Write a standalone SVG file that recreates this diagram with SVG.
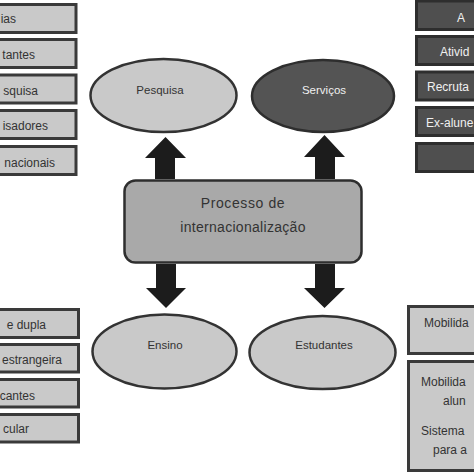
<svg xmlns="http://www.w3.org/2000/svg" width="474" height="474" viewBox="0 0 474 474">
<style>
.lb{fill:#c9c9c9;stroke:#3a3a3a;stroke-width:3}
.db{fill:#4f4f4f;stroke:#2e2e2e;stroke-width:3}
.el{fill:#c9c9c9;stroke:#333;stroke-width:2.5}
.eld{fill:#545454;stroke:#2e2e2e;stroke-width:2.5}
.t{font-family:"Liberation Sans",Arial,sans-serif;font-size:11.5px;fill:#333}
.tw{font-family:"Liberation Sans",Arial,sans-serif;font-size:11.5px;fill:#f0f0f0}
.b{font-size:12px}
.c{text-anchor:middle}
.e{text-anchor:end}
.arr{fill:#1c1c1c}
</style>
<rect width="474" height="474" fill="#fff"/>
<g id="left-top">
<g id="lt1"><rect class="lb" x="-5" y="4.5" width="81" height="28"/><text class="t b e" x="16" y="23">ias</text></g>
<g id="lt2"><rect class="lb" x="-5" y="39.5" width="81" height="28"/><text class="t b e" x="35" y="59">tantes</text></g>
<g id="lt3"><rect class="lb" x="-5" y="75" width="81" height="28"/><text class="t b e" x="38" y="95">squisa</text></g>
<g id="lt4"><rect class="lb" x="-5" y="110.5" width="81" height="28"/><text class="t b e" x="48" y="130">isadores</text></g>
<g id="lt5"><rect class="lb" x="-5" y="146.5" width="81" height="28"/><text class="t b e" x="55" y="167">nacionais</text></g>
</g>
<g id="right-top">
<g id="rt1"><rect class="db" x="416.5" y="1" width="70" height="28.5"/><text class="tw b" x="457" y="22">A</text></g>
<g id="rt2"><rect class="db" x="416.5" y="36.5" width="70" height="28"/><text class="tw b" x="440" y="56">Ativid</text></g>
<g id="rt3"><rect class="db" x="416.5" y="72" width="70" height="28"/><text class="tw b" x="427" y="91">Recruta</text></g>
<g id="rt4"><rect class="db" x="416.5" y="107.5" width="70" height="28"/><text class="tw b" x="426" y="127">Ex-alune</text></g>
<g id="rt5"><rect class="db" x="416.5" y="143.5" width="70" height="28"/></g>
</g>
<g id="left-bottom">
<g id="lb1"><rect class="lb" x="-5" y="309.5" width="83.5" height="28"/><text class="t b e" x="46" y="329">e dupla</text></g>
<g id="lb2"><rect class="lb" x="-5" y="344.5" width="83.5" height="27.5"/><text class="t b e" x="62" y="364">estrangeira</text></g>
<g id="lb3"><rect class="lb" x="-5" y="379.5" width="83.5" height="27.5"/><text class="t b e" x="35" y="400">cantes</text></g>
<g id="lb4"><rect class="lb" x="-5" y="414.5" width="83.5" height="27.5"/><text class="t b e" x="29" y="433">cular</text></g>
</g>
<g id="right-bottom">
<g id="rb1"><rect class="lb" x="408.5" y="306.5" width="75" height="47"/><text class="t b" x="424" y="327">Mobilida</text></g>
<g id="rb2"><rect class="lb" x="408.5" y="361.5" width="75" height="109"/>
<text class="t b" x="421" y="386">Mobilida</text>
<text class="t b" x="443" y="405">alun</text>
<text class="t b" x="421" y="435">Sistema</text>
<text class="t b" x="433" y="454">para a</text></g>
</g>
<g id="pesquisa"><ellipse class="el" cx="163.5" cy="95.5" rx="73" ry="36.5"/><text class="t c" x="160" y="94">Pesquisa</text></g>
<g id="servicos"><ellipse class="eld" cx="323" cy="96" rx="71" ry="36"/><text class="tw c" x="324" y="94">Serviços</text></g>
<g id="ensino"><ellipse class="el" cx="164.5" cy="351.5" rx="72" ry="37"/><text class="t c" x="165" y="349">Ensino</text></g>
<g id="estudantes"><ellipse class="el" cx="322.5" cy="352.5" rx="73" ry="36.5"/><text class="t c" x="324" y="349">Estudantes</text></g>
<g id="processo"><rect x="124.5" y="180.5" width="237" height="82" rx="11" fill="#a9a9a9" stroke="#2e2e2e" stroke-width="2.5"/>
<text x="243" y="208" font-family="Liberation Sans, Arial, sans-serif" font-size="14" fill="#333" text-anchor="middle" letter-spacing="0.6">Processo de</text>
<text x="243" y="232" font-family="Liberation Sans, Arial, sans-serif" font-size="14" fill="#333" text-anchor="middle" letter-spacing="0.3">internacionalização</text></g>
<g id="connectors">
<polygon class="arr" points="155,179 175,179 175,158 186,158 165.5,137 145,158 155,158"/>
<polygon class="arr" points="315,179 335,179 335,157 345,157 324.5,135 304,157 315,157"/>
<polygon class="arr" points="156,264 176,264 176,288 186,288 166,308 146,288 156,288"/>
<polygon class="arr" points="315,264 335,264 335,288 345,288 324.5,308 304,288 315,288"/>
</g>
</svg>
